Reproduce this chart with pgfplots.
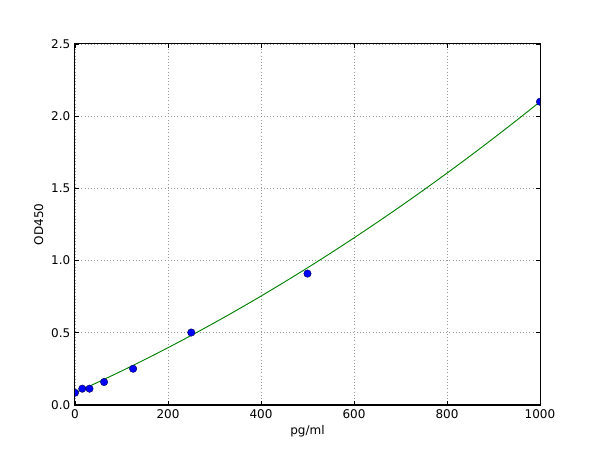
\documentclass[border=0pt]{standalone}
\usepackage{fontspec}
\setmainfont{DejaVu Sans}
\usepackage{pgfplots}
\pgfplotsset{compat=1.18}
\definecolor{mplblue}{RGB}{0,0,255}
\definecolor{mplgreen}{RGB}{0,128,0}

\begin{document}
\begin{tikzpicture}
\begin{axis}[
    name=ax,
    scale only axis,
    width=348.75pt,
    height=270.75pt,
    xmin=0, xmax=1000,
    ymin=0, ymax=2.5,
    xtick={0,200,400,600,800,1000},
    ytick={0,0.5,1,1.5,2,2.5},
    xticklabel style={/pgf/number format/1000 sep={}},
    yticklabel style={/pgf/number format/fixed,/pgf/number format/fixed zerofill,/pgf/number format/precision=1},
    /pgf/number format/assume math mode=true,
    tick label style={font=\fontsize{9}{10}\selectfont},
    label style={font=\fontsize{9}{10}\selectfont},
    xlabel={pg/ml},
    ylabel={OD450},
    xlabel style={yshift=2pt},
    ylabel style={yshift=-1pt},
    tick align=inside,
    major tick length=3pt,
    axis line style={line width=0.75pt},
    every tick/.style={black,line width=0.5pt},
    grid=major,
    grid style={dotted,gray!80,line width=0.5pt},
    clip marker paths=true,
]
\addplot[mplgreen, line width=0.7pt, smooth] coordinates {
(0,0.085) (50,0.1587) (100,0.2352) (150,0.3146) (200,0.3968) (250,0.4819)
(300,0.5698) (350,0.6606) (400,0.7542) (450,0.8507) (500,0.950) (550,1.0522)
(600,1.1572) (650,1.2651) (700,1.3758) (750,1.4894) (800,1.6058) (850,1.7251)
(900,1.8472) (950,1.9722) (1000,2.100)
};
\addplot[only marks, mark=*, mark size=2.8pt, mark options={fill=mplblue, draw=black!70!blue, line width=0.3pt}] coordinates {
(0,0.085) (15.6,0.113) (31.25,0.113) (62.5,0.159) (125,0.251) (250,0.502) (500,0.910) (1000,2.100)
};
\end{axis}
\pgfresetboundingbox
\path (ax.south west) ++(-56.25pt,-33.75pt) rectangle ++(450pt,337.5pt);
\end{tikzpicture}
\end{document}
